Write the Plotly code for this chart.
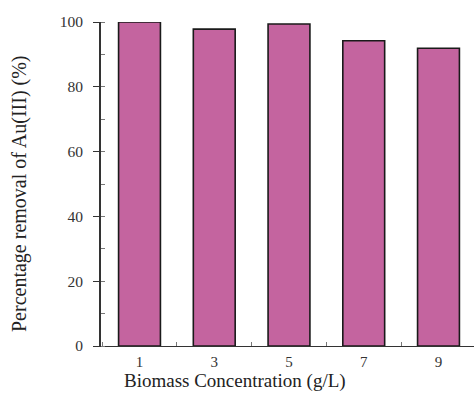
import plotly.graph_objects as go

# Biomass concentration (g/L) and Au(III) removal (%)
concentrations = [1, 3, 5, 7, 9]
removal_pct = [100.0, 97.8, 99.4, 94.2, 91.9]
y_ticks = [0, 20, 40, 60, 80, 100]

FONT = "Liberation Serif, Times New Roman, serif"
W, H = 474, 394
L, R, T, B = 101, 0, 22, 48

fig = go.Figure(
    go.Bar(
        x=concentrations,
        y=removal_pct,
        width=1.12,
        marker=dict(color="#C4649F", line=dict(color="#1a1a1a", width=1.6)),
    )
)

fig.update_layout(
    width=W,
    height=H,
    margin=dict(l=L, r=R, t=T, b=B),
    paper_bgcolor="white",
    plot_bgcolor="white",
    showlegend=False,
    font=dict(family=FONT, size=16, color="#333"),
    xaxis=dict(
        range=[-0.03, 9.95],
        tickvals=concentrations,
        ticktext=[str(c) for c in concentrations],
        ticks="",
        showgrid=False,
        zeroline=False,
        showline=True,
        linecolor="#333",
        linewidth=1.2,
        minor=dict(tick0=0, dtick=2, ticks="inside", ticklen=4, tickcolor="#777", showgrid=False),
        tickfont=dict(family=FONT, size=15, color="#333"),
        ticklabelstandoff=2,
    ),
    yaxis=dict(
        range=[0, 100],
        tickvals=y_ticks,
        ticks="outside",
        ticklen=6,
        tickcolor="#333",
        showgrid=False,
        zeroline=False,
        showline=True,
        linecolor="#333",
        linewidth=1.6,
        minor=dict(tick0=0, dtick=10, ticks="inside", ticklen=4, tickcolor="#777", showgrid=False),
        tickfont=dict(family=FONT, size=15.5, color="#333"),
        ticklabelstandoff=7,
    ),
    annotations=[
        dict(
            text="Biomass Concentration (g/L)",
            xref="paper", yref="paper",
            x=(235 - L) / (W - L - R), y=-(381 - (H - B)) / (H - T - B),
            xanchor="center", yanchor="middle",
            showarrow=False,
            font=dict(family=FONT, size=19, color="#222"),
        ),
        dict(
            text="Percentage removal of Au(III) (%)",
            xref="paper", yref="paper",
            x=(19 - L) / (W - L - R), y=((H - B) - 194) / (H - T - B),
            xanchor="center", yanchor="middle",
            textangle=-90,
            showarrow=False,
            font=dict(family=FONT, size=20, color="#222"),
        ),
    ],
)

fig.write_html("out.html")
